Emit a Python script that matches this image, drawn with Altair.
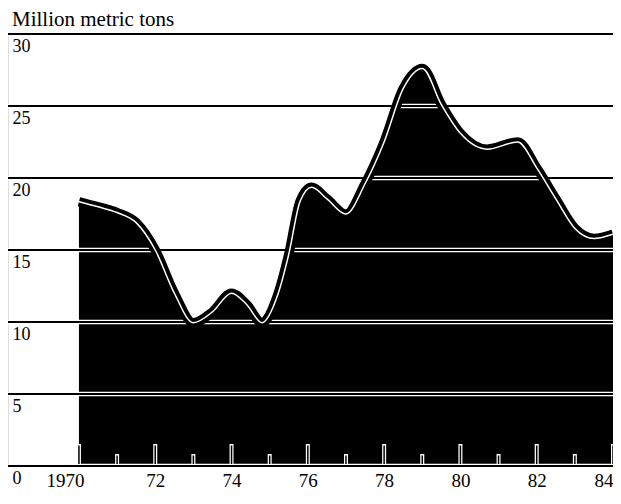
import altair as alt
import pandas as pd

# Curve sample points (year, million metric tons)
years = [1970.0, 1970.5, 1971.0, 1971.5, 1972.0, 1972.5, 1973.0, 1973.5, 1974.0,
         1974.4, 1974.8, 1975.2, 1975.5, 1975.8, 1976.1, 1976.5, 1977.0, 1977.5,
         1978.0, 1978.5, 1979.0, 1979.5, 1980.0, 1980.7, 1981.5, 1982.0, 1982.5,
         1983.0, 1983.5, 1984.0]
tons = [18.35, 18.0, 17.6, 16.9, 15.0, 12.0, 9.95, 10.7, 12.0,
        11.2, 9.95, 11.8, 14.7, 18.4, 19.35, 18.55, 17.5, 19.6,
        22.5, 26.2, 27.6, 25.1, 23.1, 22.0, 22.5, 20.7, 18.55,
        16.5, 15.8, 16.1]

grid_values = [0, 5, 10, 15, 20, 25, 30]
label_years = [1970, 1972, 1974, 1976, 1978, 1980, 1982, 1984]
tick_years = list(range(1970, 1985))

W, H = 605, 432
FONT = "Liberation Serif"

curve = pd.DataFrame({"year": years, "tons": tons})
grid = pd.DataFrame({"v": grid_values})
ticks = pd.DataFrame({"year": tick_years,
                      "kind": ["even" if y % 2 == 0 else "odd" for y in tick_years]})

xs = alt.Scale(domain=[1968.14, 1984.0], nice=False, zero=False)
ys = alt.Scale(domain=[0, 30], nice=False)

x_axis = alt.Axis(
    values=label_years,
    labelExpr="datum.value == 1970 ? '1970' : substring(toString(datum.value), 2, 4)",
    domain=False, ticks=False, grid=False, title=None,
    labelFlush=False, labelOverlap=False, labelBound=False,
    labelFont=FONT, labelFontSize=19, labelColor="black",
    labelPadding=5,
    labelOffset={"condition": {"test": "datum.value == 1970", "value": -14}, "value": 0},
    labelAlign={"condition": {"test": "datum.value == 1984", "value": "right"}, "value": "center"},
)
y_axis = alt.Axis(
    values=grid_values, domain=False, ticks=False, grid=False, title=None,
    labelFlush=False, labelOverlap=False,
    labelAlign="left", labelBaseline="top", labelPadding=-4, labelOffset=3.5,
    labelFont=FONT, labelFontSize=18, labelColor="black",
)

X = alt.X("year:Q", scale=xs, axis=x_axis)
Y = alt.Y("tons:Q", scale=ys, axis=y_axis)
YG = alt.Y("v:Q", scale=ys, axis=y_axis)

area = alt.Chart(curve).mark_area(color="black", interpolate="monotone").encode(x=X, y=Y)

grid_white = alt.Chart(grid).mark_rule(color="white", strokeWidth=4.5).encode(y=YG)
grid_black = alt.Chart(grid).mark_rule(color="black", strokeWidth=1.8).encode(y=YG)

edge_black = alt.Chart(curve).mark_line(
    color="black", strokeWidth=9.5, interpolate="monotone", strokeCap="butt"
).encode(x=X, y=Y)
edge_white = alt.Chart(curve).mark_line(
    color="white", strokeWidth=1.5, interpolate="monotone"
).encode(x=X, y=Y)

tick_src = alt.Chart(ticks)
tick_even_w = tick_src.transform_filter("datum.kind == 'even'").mark_rule(
    color="white", strokeWidth=4).encode(x=X, y=alt.value(H - 1), y2=alt.value(H - 22))
tick_even_b = tick_src.transform_filter("datum.kind == 'even'").mark_rule(
    color="black", strokeWidth=1.5).encode(x=X, y=alt.value(H - 2), y2=alt.value(H - 20.5))
tick_odd_w = tick_src.transform_filter("datum.kind == 'odd'").mark_rule(
    color="white", strokeWidth=4).encode(x=X, y=alt.value(H - 1), y2=alt.value(H - 12))
tick_odd_b = tick_src.transform_filter("datum.kind == 'odd'").mark_rule(
    color="black", strokeWidth=1.5).encode(x=X, y=alt.value(H - 2), y2=alt.value(H - 10.5))

chart = alt.layer(
    area, grid_white, grid_black, edge_black, edge_white,
    tick_even_w, tick_even_b, tick_odd_w, tick_odd_b,
).properties(
    width=W, height=H,
    title=alt.TitleParams("Million metric tons", anchor="start", frame="group",
                          font=FONT, fontSize=21, fontWeight="normal",
                          color="black", offset=2, dx=4),
    autosize=alt.AutoSizeParams(type="none"),
    padding={"left": 0, "top": 26, "right": 0, "bottom": 24},
).configure_view(stroke=None).configure(background="white")

chart.save("out.html", embed_options={"renderer": "svg", "actions": False})
